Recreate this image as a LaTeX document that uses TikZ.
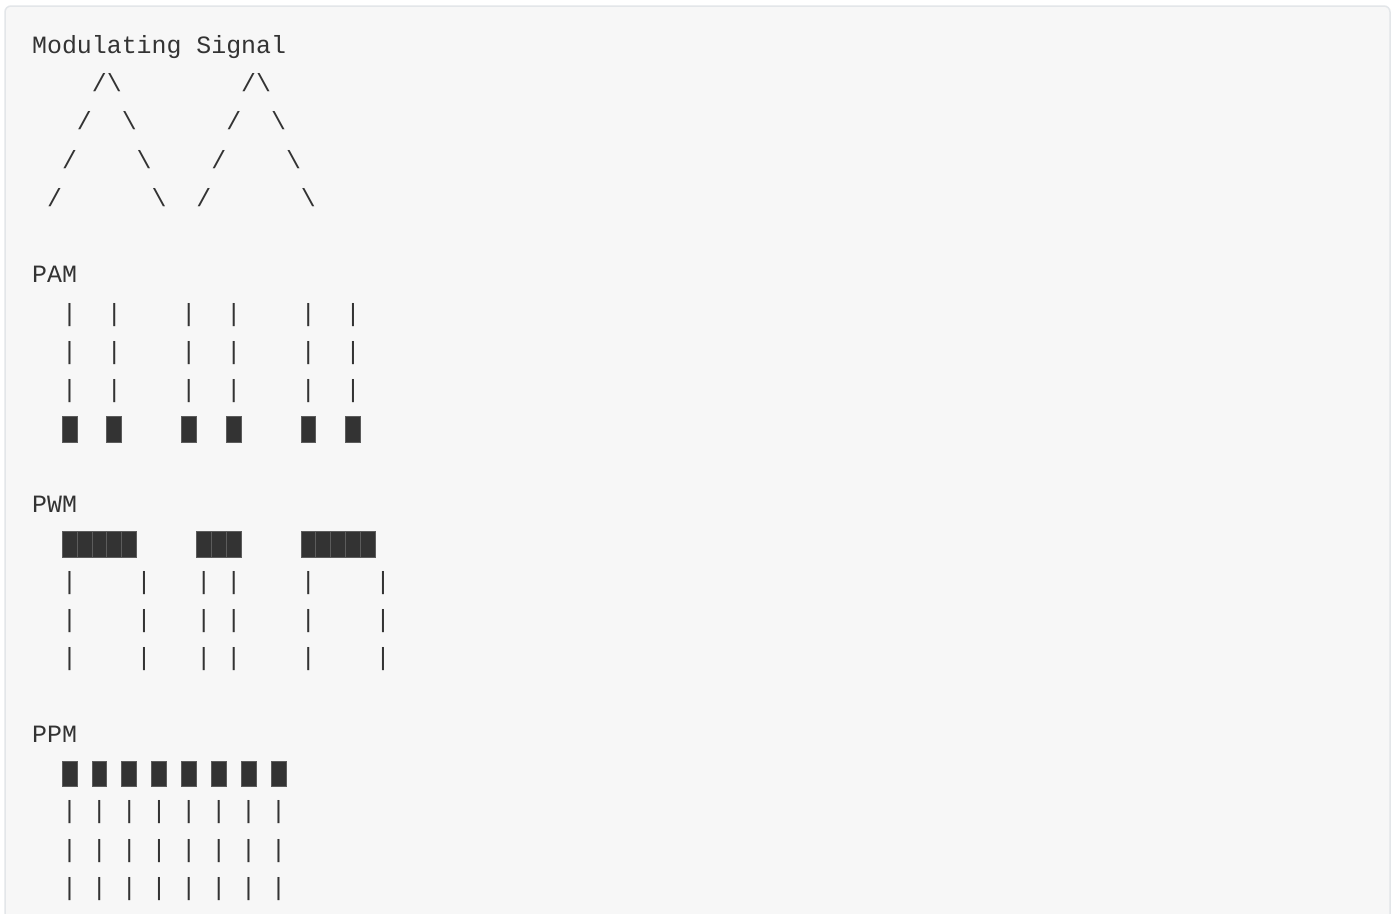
\documentclass[tikz,border=0pt]{standalone}
\usepackage{fontspec}
\setmonofont{Liberation Mono}
\usetikzlibrary{positioning}
\definecolor{codebg}{HTML}{F7F7F7}
\definecolor{codeborder}{HTML}{E3E6E9}
\definecolor{codetext}{HTML}{333333}
\tikzset{
  asciiline/.style={anchor=base west, inner sep=0pt, text=codetext,
    font=\fontsize{24.88}{38.28}\selectfont\ttfamily},
  pulse/.style={rectangle, inner sep=0pt, minimum width=14.93pt,
    minimum height=25.4pt, fill=codetext, draw=codetext!80!white, line width=0.4pt},
}

\begin{document}
\begin{tikzpicture}[x=1pt, y=-1pt]
  \clip (0,0) rectangle (1397,913);
  \fill[white] (0,0) rectangle (1397,913);
  \draw[codeborder, fill=codebg, rounded corners=6pt, line width=1.5pt]
    (5,6) rectangle (1390,960);

  % modulating signal
  \node[asciiline] (sig) at (32,53.3) {Modulating Signal};
  \node[asciiline] (sig1) at (32,91.58) {~~~~/\textbackslash~~~~~~~~/\textbackslash};
  \node[asciiline] (sig2) at (32,129.86) {~~~/~~\textbackslash~~~~~~/~~\textbackslash};
  \node[asciiline] (sig3) at (32,168.14) {~~/~~~~\textbackslash~~~~/~~~~\textbackslash};
  \node[asciiline] (sig4) at (32,206.42) {~/~~~~~~\textbackslash~~/~~~~~~\textbackslash};

  % PAM
  \node[asciiline] (pam) at (32,282.98) {PAM};
  \node[asciiline] (pam1) at (32,321.26) {~~|~~|~~~~|~~|~~~~|~~|};
  \node[asciiline] (pam2) at (32,359.54) {~~|~~|~~~~|~~|~~~~|~~|};
  \node[asciiline] (pam3) at (32,397.82) {~~|~~|~~~~|~~|~~~~|~~|};
  \foreach \c in {2,5,10,13,18,21}
    \node[pulse] (pamblk\c) at ({32+14.93*(\c+0.5)},429.2) {};

  % PWM
  \node[asciiline] (pwm) at (32,512.66) {PWM};
  \foreach \c in {2,3,4,5,6,11,12,13,18,19,20,21,22}
    \node[pulse] (pwmblk\c) at ({32+14.93*(\c+0.5)},544.0) {};
  \node[asciiline] (pwm1) at (32,589.22) {~~|~~~~|~~~|~|~~~~|~~~~|};
  \node[asciiline] (pwm2) at (32,627.5) {~~|~~~~|~~~|~|~~~~|~~~~|};
  \node[asciiline] (pwm3) at (32,665.78) {~~|~~~~|~~~|~|~~~~|~~~~|};

  % PPM
  \node[asciiline] (ppm) at (32,742.34) {PPM};
  \foreach \c in {2,4,...,16}
    \node[pulse] (ppmblk\c) at ({32+14.93*(\c+0.5)},773.7) {};
  \node[asciiline] (ppm1) at (32,818.9) {~~|~|~|~|~|~|~|~|};
  \node[asciiline] (ppm2) at (32,857.18) {~~|~|~|~|~|~|~|~|};
  \node[asciiline] (ppm3) at (32,895.46) {~~|~|~|~|~|~|~|~|};
\end{tikzpicture}
\end{document}
